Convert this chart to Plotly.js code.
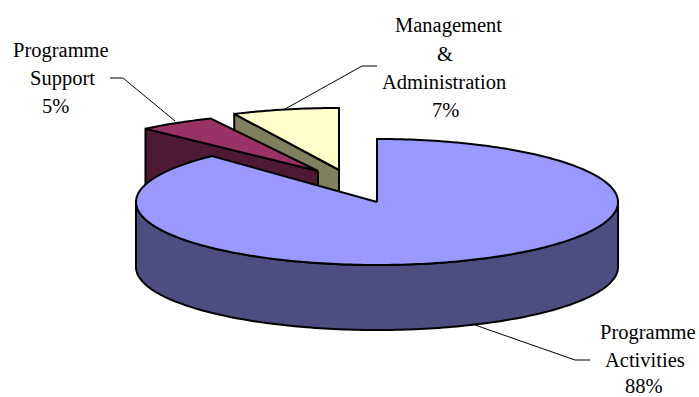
<!DOCTYPE html>
<html>
<head>
<meta charset="utf-8">
<script src="https://cdn.plot.ly/plotly-3.0.1.min.js"></script>
<style>html,body{margin:0;padding:0;background:#fff}#chart{width:699px;height:397px}</style>
</head>
<body>
<div id="chart"></div>
<script>
// Budget split, in percent, clockwise from twelve o'clock
const categories = ['Programme Activities', 'Programme Support', 'Management & Administration'];
const shares = [88, 5, 7];

// Label lines for each slice, with the share filled in below
const labelLines = [
  ['Programme', 'Activities'],
  ['Programme', 'Support'],
  ['Management', '&', 'Administration']
];

// Slice colours: top face and side wall
const topColours = ['#9999FF', '#993366', '#FFFFCC'];
const wallColours = ['#4D4D80', '#4D1933', '#80805F'];

// Tilted disc geometry, in plot units (one unit per pixel)
const discs = [
  {cx: 377, cy: 202, rx: 241, ry: 63},
  {cx: 318, cy: 171, rx: 252, ry: 58},
  {cx: 339, cy: 170, rx: 246, ry: 62}
];
const depth = 65;

// Label placement, one centre per line, and leader lines
const labelAnchors = [
  {xs: [648, 645, 644], ys: [332, 360, 386]},
  {xs: [61, 62, 55], ys: [50, 78, 106]},
  {xs: [448, 445, 444, 445], ys: [25, 54, 82, 110]}
];
const leaders = [
  {x: [475, 575, 590], y: [325, 360, 360]},
  {x: [110, 123, 175], y: [78, 78, 121]},
  {x: [285, 362, 377], y: [109, 66, 66]}
];

// Cumulative slice boundaries in radians, clockwise from the top
const bounds = [0];
const total = shares.reduce((a, b) => a + b, 0);
shares.forEach(v => bounds.push(bounds[bounds.length - 1] + v / total * 2 * Math.PI));

const arcPoint = (d, a, drop) => [d.cx + d.rx * Math.sin(a), d.cy - d.ry * Math.cos(a) + (drop || 0)];

function arc(d, from, to, drop) {
  const steps = Math.max(4, Math.ceil(Math.abs(to - from) / 0.02));
  const pts = [];
  for (let i = 0; i <= steps; i++) pts.push(arcPoint(d, from + (to - from) * i / steps, drop));
  return pts;
}

function polygon(pts, fill) {
  return {
    type: 'scatter', mode: 'lines', hoverinfo: 'skip', showlegend: false,
    x: pts.map(p => p[0]), y: pts.map(p => p[1]),
    fill: 'toself', fillcolor: fill,
    line: {color: '#000', width: 2, simplify: false}
  };
}

function topFace(i) {
  const d = discs[i];
  const a = [[d.cx, d.cy]].concat(arc(d, bounds[i], bounds[i + 1]));
  a.push([d.cx, d.cy]);
  return polygon(a, topColours[i]);
}

// Radial wall left of a small slice, seen through the exploded gap
function radialWall(i) {
  const d = discs[i];
  const e = arcPoint(d, bounds[i]);
  const pts = [[d.cx, d.cy], e, [e[0], e[1] + depth], [d.cx, d.cy + depth], [d.cx, d.cy]];
  return polygon(pts, wallColours[i]);
}

// Front of the big slice: the visible lower half of the cylinder
function frontWall(i) {
  const d = discs[i];
  const upper = arc(d, Math.PI / 2, 1.5 * Math.PI);
  const lower = arc(d, 1.5 * Math.PI, Math.PI / 2, depth);
  const pts = upper.concat(lower);
  pts.push(upper[0]);
  return polygon(pts, wallColours[i]);
}

const leaderTraces = leaders.map(l => ({
  type: 'scatter', mode: 'lines', hoverinfo: 'skip', showlegend: false,
  x: l.x, y: l.y, line: {color: '#000', width: 1}
}));

// Back to front: management, support, then the main slice over both
const traces = [
  radialWall(2), topFace(2),
  radialWall(1), topFace(1),
  frontWall(0), topFace(0)
].concat(leaderTraces);

const annotations = [];
categories.forEach((name, i) => {
  labelLines[i].concat([shares[i] + '%']).forEach((text, j) => {
    annotations.push({
      x: labelAnchors[i].xs[j], y: labelAnchors[i].ys[j], xref: 'x', yref: 'y',
      text: text, showarrow: false, xanchor: 'center', yanchor: 'middle',
      font: {family: '"Liberation Serif", serif', size: 20.5, color: '#000'}
    });
  });
});

Plotly.newPlot('chart', traces, {
  width: 699, height: 397,
  margin: {l: 0, r: 0, t: 0, b: 0},
  paper_bgcolor: '#fff', plot_bgcolor: '#fff',
  showlegend: false,
  xaxis: {range: [0, 699], visible: false, fixedrange: true},
  yaxis: {range: [397, 0], visible: false, fixedrange: true},
  annotations: annotations
}, {staticPlot: true, displayModeBar: false});
</script>
</body>
</html>
